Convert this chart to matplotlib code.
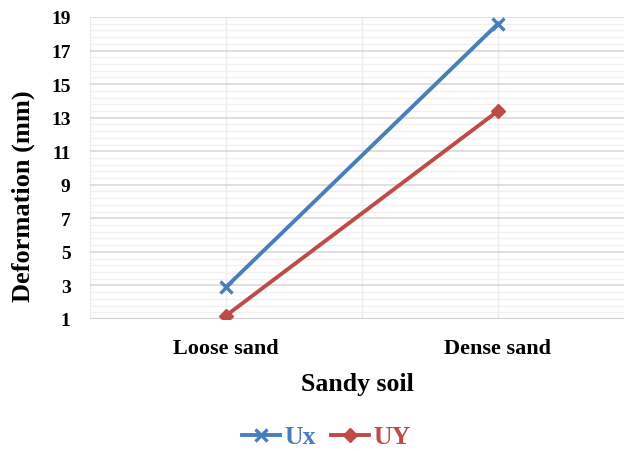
import matplotlib
matplotlib.use("Agg")
import matplotlib.pyplot as plt
import numpy as np

categories = ["Loose sand", "Dense sand"]
ux = [2.9, 18.6]
uy = [1.2, 13.4]
y_ticks = [1, 3, 5, 7, 9, 11, 13, 15, 17, 19]

plt.rcParams['font.family'] = ['Liberation Serif', 'DejaVu Serif']
plt.rcParams['font.weight'] = 'bold'

fig = plt.figure(figsize=(6.24, 4.52), dpi=100)
ax = fig.add_axes([90/624, 1-320/452, 1-90/624, (320-18)/452])

x = np.arange(len(categories))
blue = "#4A7EBB"
red = "#BE4B48"
ax.plot(x, ux, color=blue, lw=2.8, marker='x', ms=8, mew=2.4, label="Ux", zorder=5)
ax.plot(x, uy, color=red, lw=2.8, marker='D', ms=7.5, label="UY", zorder=5)

ax.set_ylim(1, 19)
ax.set_xlim(-0.5, (624-90)/272 - 0.5)
ax.set_yticks(y_ticks)
ax.set_yticks(np.arange(1, 19.01, 0.4), minor=True)
ax.set_xticks(x)
ax.set_xticks([-0.5, 0.5], minor=True)
ax.set_xticklabels(categories, fontsize=16, fontweight='bold')
ax.tick_params(axis='y', labelsize=14, length=0, pad=14)
ax.tick_params(axis='x', length=0, pad=14)
ax.tick_params(which='minor', length=0)
for lbl in ax.get_yticklabels():
    lbl.set_fontweight('bold')

ax.grid(True, which='major', axis='y', color='#d9d9d9', lw=1.2)
ax.grid(True, which='minor', axis='y', color='#f0f0f0', lw=1.0)
ax.grid(True, which='both', axis='x', color='#ececec', lw=1.0)
ax.set_axisbelow(True)
for s in ax.spines.values():
    s.set_visible(False)
ax.axhline(1, color='#d0d0d0', lw=1.5, zorder=1)

ax.set_ylabel("Deformation (mm)", fontsize=19, fontweight='bold')
ax.yaxis.set_label_coords((35-90)/534, (320-196)/302)
ax.set_xlabel("Sandy soil", fontsize=18.5, fontweight='bold', labelpad=10)

leg = fig.legend(loc='center', bbox_to_anchor=(326/624, 1-438/452), ncol=2,
                 frameon=False, handlelength=1.5, columnspacing=0.6,
                 handletextpad=0.15, prop={'weight': 'bold', 'size': 18.5})
for t, c in zip(leg.get_texts(), [blue, red]):
    t.set_color(c)

fig.savefig("out.png", dpi=100)
